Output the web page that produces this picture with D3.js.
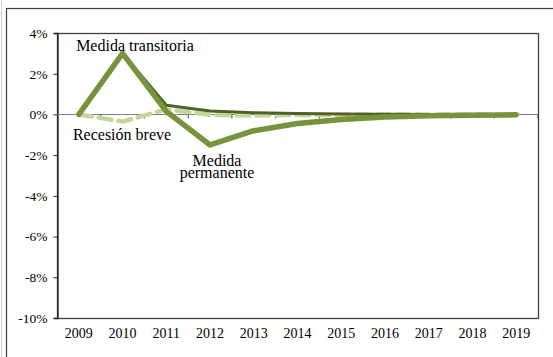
<!DOCTYPE html>
<html>
<head>
<meta charset="utf-8">
<script src="https://cdn.jsdelivr.net/npm/d3@7"></script>
<style>
  html, body { margin: 0; padding: 0; background: #fff; }
  svg { display: block; }
</style>
</head>
<body>
<svg id="chart" width="553" height="357"></svg>
<script>
// Years on the horizontal axis
const years = ["2009","2010","2011","2012","2013","2014","2015","2016","2017","2018","2019"];
// Deviation from baseline, in percent
const transitoria = [0, 3.0, 0.45, 0.17, 0.08, 0.04, 0.02, 0.01, 0.0, 0.0, 0.0];
const permanente  = [0, 3.0, 0.15, -1.5, -0.8, -0.45, -0.25, -0.13, -0.07, -0.04, -0.02];
const recesion    = [0, -0.35, 0.25, -0.02, -0.05, -0.03, -0.02, -0.01, 0.0, 0.0, 0.0];
const yTicks = [4, 2, 0, -2, -4, -6, -8, -10];

const FONT = "Liberation Serif";
const svg = d3.select("#chart");
const plot = { left: 57, top: 33, right: 538, bottom: 318 };

// Chart frame
svg.append("line").attr("x1", 1.5).attr("x2", 1.5).attr("y1", 0).attr("y2", 357)
  .attr("stroke", "#d0d0d0").attr("stroke-width", 1);
svg.append("rect").attr("x", 6.5).attr("y", 8.5).attr("width", 600).attr("height", 400)
  .attr("fill", "none").attr("stroke", "#404040").attr("stroke-width", 1.2);

const x = d3.scaleBand().domain(years).range([plot.left, plot.right]);
const y = d3.scaleLinear().domain([-10, 4]).range([plot.bottom, plot.top]);
const cx = d => x(d) + x.bandwidth() / 2;

// Plot area border
svg.append("rect")
  .attr("x", plot.left + 0.5).attr("y", plot.top + 0.5)
  .attr("width", plot.right - plot.left).attr("height", plot.bottom - plot.top)
  .attr("fill", "none").attr("stroke", "#404040").attr("stroke-width", 1.3);

// Vertical axis
const yAxis = svg.append("g").attr("transform", `translate(${plot.left + 0.5},0)`)
  .call(d3.axisLeft(y).tickValues(yTicks).tickSize(4).tickPadding(6)
    .tickFormat(d => d + "%"));
yAxis.select(".domain").attr("stroke", "#202020").attr("stroke-width", 1.3);
yAxis.selectAll(".tick line").attr("stroke", "#202020");
yAxis.selectAll("text").attr("fill", "#000")
  .style("font-family", FONT).style("font-size", "13.5px");

// Category axis running along 0%
const zeroY = Math.round(y(0)) + 0.5;
svg.append("line").attr("x1", plot.left).attr("x2", plot.right).attr("y1", zeroY).attr("y2", zeroY)
  .attr("stroke", "#808080").attr("stroke-width", 1.2);
svg.append("g").selectAll("line").data(years).join("line")
  .attr("x1", (d, i) => plot.left + x.bandwidth() * (i + 1))
  .attr("x2", (d, i) => plot.left + x.bandwidth() * (i + 1))
  .attr("y1", zeroY).attr("y2", zeroY + 4)
  .attr("stroke", "#404040").attr("stroke-width", 1);

// Year labels under the plot
svg.append("g").selectAll("text").data(years).join("text")
  .attr("x", d => cx(d)).attr("y", 338)
  .attr("text-anchor", "middle")
  .style("font-family", FONT).style("font-size", "14px")
  .text(d => d);

const line = d3.line().x((d, i) => cx(years[i])).y(d => y(d));

svg.append("path").datum(recesion).attr("d", line)
  .attr("fill", "none").attr("stroke", "#C3D69B").attr("stroke-width", 4.5)
  .attr("stroke-dasharray", "13,7").attr("stroke-linecap", "round").attr("stroke-linejoin", "round");
svg.append("path").datum(transitoria).attr("d", line)
  .attr("fill", "none").attr("stroke", "#4F6228").attr("stroke-width", 3)
  .attr("stroke-linejoin", "round");
svg.append("path").datum(permanente).attr("d", line)
  .attr("fill", "none").attr("stroke", "#77933C").attr("stroke-width", 5.5)
  .attr("stroke-linecap", "round").attr("stroke-linejoin", "round");

// Series annotations (multi-line labels use tspans)
const notes = [
  { lines: ["Medida transitoria"], x: 135, y: 51 },
  { lines: ["Recesión breve"], x: 122, y: 140 },
  { lines: ["Medida", "permanente"], x: 217, y: 166 }
];
const noteText = svg.append("g").selectAll("text").data(notes).join("text")
  .attr("x", d => d.x).attr("y", d => d.y).attr("text-anchor", "middle")
  .style("font-family", FONT).style("font-size", "16px");
noteText.selectAll("tspan").data(d => d.lines.map(l => ({ l, x: d.x }))).join("tspan")
  .attr("x", d => d.x).attr("dy", (d, i) => i === 0 ? 0 : 12)
  .text(d => d.l);
</script>
</body>
</html>
